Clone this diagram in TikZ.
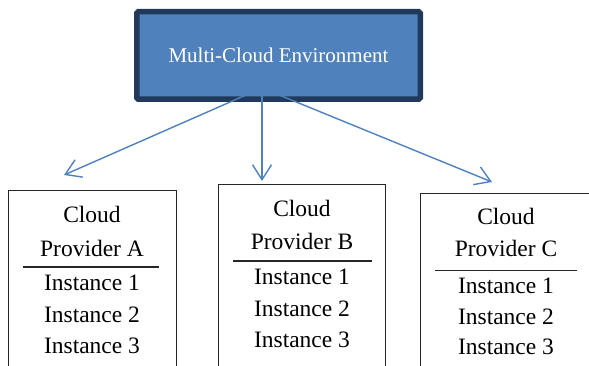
\documentclass[tikz,border=0pt]{standalone}
\usepackage{fontspec}
\setmainfont{Liberation Serif}
\usetikzlibrary{arrows.meta}
\definecolor{topfill}{HTML}{4F81BD}
\definecolor{topborder}{HTML}{21395A}
\definecolor{arrowblue}{HTML}{4F81BD}
\definecolor{sepgray}{HTML}{262626}
\begin{document}
\begin{tikzpicture}[x=1pt,y=-1pt,
  topbox/.style={draw=topborder,fill=topfill,line width=5.5pt,rounded corners=1.5pt,
    minimum width=283.5pt,minimum height=87.5pt,inner sep=0pt,
    text=white,font=\fontsize{21}{25}\selectfont},
  provbox/.style={draw=black!85,line width=1pt,fill=white,inner sep=0pt,anchor=north west},
  ptext/.style={anchor=base,inner sep=0pt,font=\fontsize{23.5}{28}\selectfont,text=black},
  sepline/.style={draw=sepgray,line width=1.8pt},
  conn/.style={draw=arrowblue,line width=1.4pt,
    -{Straight Barb[length=15pt,width=19pt,line width=1.4pt]}}
]
\useasboundingbox (0,0) rectangle (589,366);
\clip (0,0) rectangle (589,366);

% top node
\node[topbox] (env) at (278.5,55.5) {Multi-Cloud Environment};

% provider boxes
\node[provbox,minimum width=167.4pt,minimum height=200pt] (boxA) at (8.3,190) {};
\node[provbox,minimum width=166.7pt,minimum height=200pt] (boxB) at (218.3,184) {};
\node[provbox,minimum width=200pt,minimum height=200pt] (boxC) at (420,193) {};

% texts A
\node[ptext] (a1) at (92,223) {Cloud};
\node[ptext] (a2) at (92,256) {Provider A};
\node[ptext] (a3) at (92,290) {Instance 1};
\node[ptext] (a4) at (92,322) {Instance 2};
\node[ptext] (a5) at (92,353) {Instance 3};
\coordinate (sa1) at (23,267);
\coordinate (sa2) at (159,267);
\draw[sepline] (sa1) -- (sa2);

% texts B
\node[ptext] (b1) at (302,216.5) {Cloud};
\node[ptext] (b2) at (302,249) {Provider B};
\node[ptext] (b3) at (302,284) {Instance 1};
\node[ptext] (b4) at (302,316) {Instance 2};
\node[ptext] (b5) at (302,347) {Instance 3};
\coordinate (sb1) at (233,261);
\coordinate (sb2) at (372,261);
\draw[sepline] (sb1) -- (sb2);

% texts C
\node[ptext] (c1) at (506,224.5) {Cloud};
\node[ptext] (c2) at (506,257) {Provider C};
\node[ptext] (c3) at (506,293) {Instance 1};
\node[ptext] (c4) at (506,324) {Instance 2};
\node[ptext] (c5) at (506,354) {Instance 3};
\coordinate (sc1) at (435,270.5);
\coordinate (sc2) at (577,270.5);
\draw[sepline] (sc1) -- (sc2);

% connectors
\coordinate (apex) at (262,88);
\coordinate (tipA) at (64,175);
\coordinate (tipB) at (262,181);
\coordinate (tipC) at (492,182);
\draw[conn] (apex) -- (tipA);
\draw[conn] (apex) -- (tipB);
\draw[conn] (apex) -- (tipC);
\end{tikzpicture}
\end{document}
